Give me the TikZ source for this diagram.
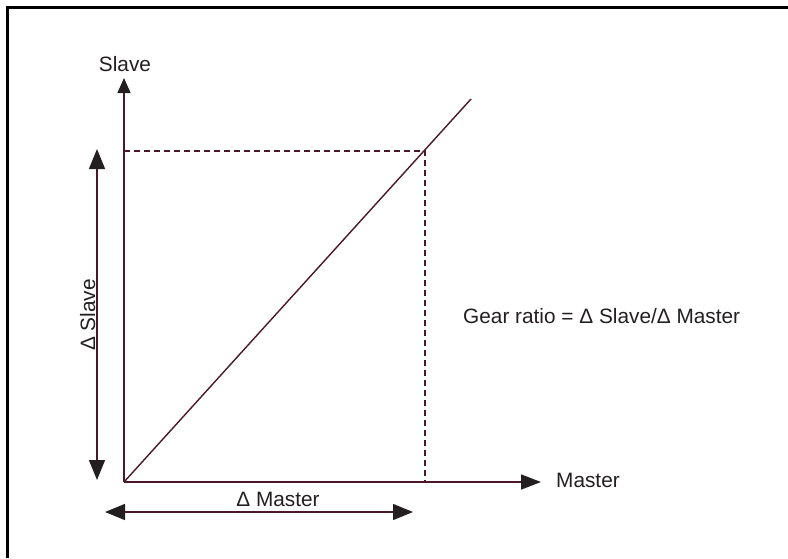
\documentclass[tikz,border=0pt]{standalone}
\usepackage{fontspec}
\setmainfont{Liberation Sans}
\usetikzlibrary{arrows.meta}
\definecolor{axis}{RGB}{74,24,40}
\definecolor{tipc}{RGB}{35,31,32}
\tikzset{
  axisline/.style={draw=axis, line width=1.4pt},
  bigtip/.style={-{Triangle[length=20pt,width=15pt,color=tipc]}},
  bothtips/.style={{Triangle[length=20pt,width=16pt,color=tipc]}-{Triangle[length=20pt,width=16pt,color=tipc]}},
  dashline/.style={draw=axis, line width=1.2pt, dash pattern=on 6pt off 4pt},
  lbl/.style={font=\fontsize{20.8}{24}\selectfont, text=tipc, inner sep=0pt},
  frameline/.style={draw=black, line width=2.4pt}
}
\begin{document}
\begin{tikzpicture}[x=1pt,y=-1pt]
\useasboundingbox (0,0) rectangle (788,558);
% frame
\coordinate (fa) at (7.5,558);
\coordinate (fb) at (7.5,7.5);
\coordinate (fc) at (788,7.5);
\draw[frameline] (fa) -- (fb) -- (fc);
% points
\coordinate (O) at (124,482);
\coordinate (Ytip) at (124,78);
\coordinate (Xtip) at (541,482);
\coordinate (Dend) at (471,99);
\coordinate (P) at (425,151);
\coordinate (Pl) at (124,151);
\coordinate (Pb) at (425,482);
\coordinate (S1) at (97,149);
\coordinate (S2) at (97,480);
\coordinate (M1) at (105,512);
\coordinate (M2) at (413,512);
% dashed
\draw[dashline] (Pl) -- (P) -- (Pb);
% axes
\draw[axisline, -{Triangle[length=15pt,width=13pt,color=tipc]}] (O) -- (Ytip);
\draw[axisline, bigtip] (O) -- (Xtip);
\draw[axisline] (O) -- (Dend);
% delta arrows
\draw[axisline, bothtips] (S1) -- (S2);
\draw[axisline, bothtips] (M1) -- (M2);
% labels
\node[lbl, anchor=base] (slave) at (125,71) {Slave};
\node[lbl, anchor=base west] (master) at (556,487) {Master};
\node[lbl, anchor=base] (dmaster) at (278,506) {Δ Master};
\node[lbl, anchor=base, rotate=90] (dslave) at (95,315) {Δ Slave};
\node[lbl, anchor=base west] (gear) at (463,323) {Gear ratio = Δ Slave/Δ Master};
\end{tikzpicture}
\end{document}
